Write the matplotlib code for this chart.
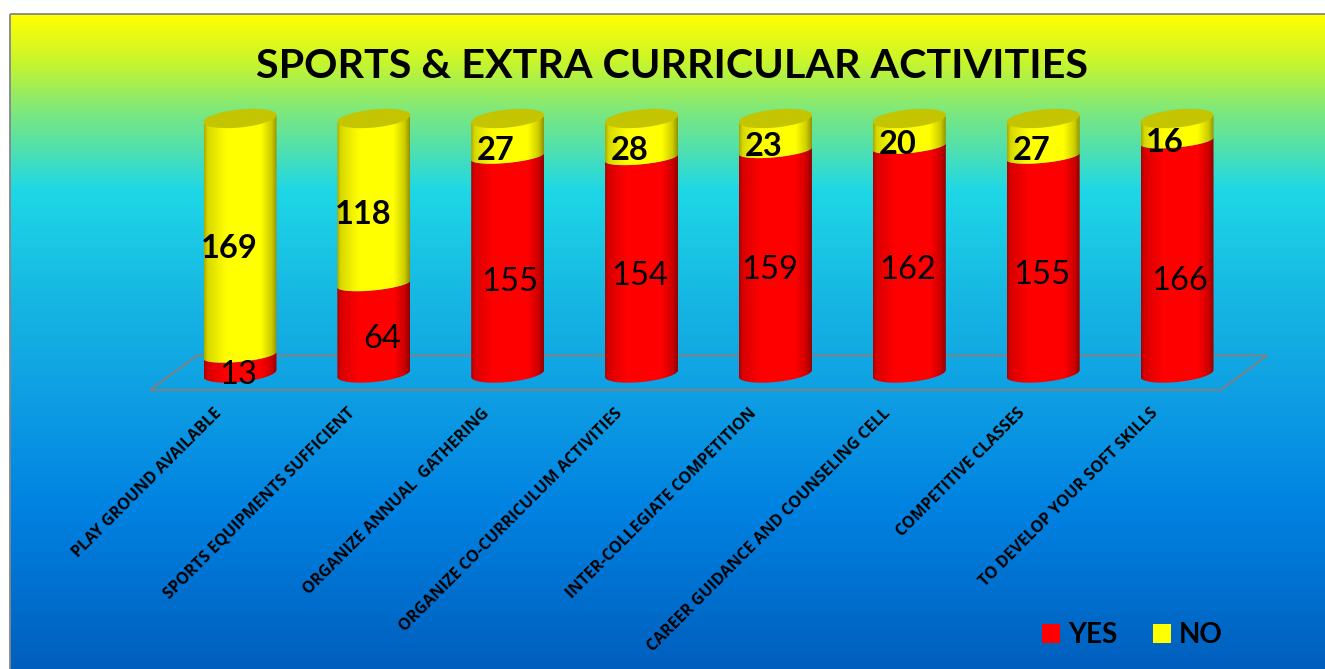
import numpy as np
import matplotlib
matplotlib.use("Agg")
import matplotlib.pyplot as plt
from matplotlib.colors import LinearSegmentedColormap
from matplotlib.patches import Polygon, Patch, Rectangle
from matplotlib.transforms import Affine2D, ScaledTranslation

# ---- data ----
categories = ["PLAY GROUND AVAILABLE", "SPORTS EQUIPMENTS SUFFICIENT", "ORGANIZE ANNUAL  GATHERING",
              "ORGANIZE CO-CURRICULUM ACTIVITIES", "INTER-COLLEGIATE COMPETITION",
              "CAREER GUIDANCE AND COUNSELING CELL", "COMPETITIVE CLASSES", "TO DEVELOP YOUR SOFT SKILLS"]
yes_values = [13, 64, 155, 154, 159, 162, 155, 166]
no_values = [169, 118, 27, 28, 23, 20, 27, 16]
title = "SPORTS & EXTRA CURRICULAR ACTIVITIES"

# ---- label positions (pixels, moved by hand in the original) ----
yes_label_px = [(238, 375), (382, 339), (510, 282), (640, 276), (770, 270), (908, 270), (1042, 275), (1180, 281)]
no_label_px = [(229, 249), (363, 214), (496, 150), (630, 151), (764, 147), (898, 144), (1032, 150), (1165, 143)]

W, H = 1325, 669
fig = plt.figure(figsize=(W / 100, H / 100), dpi=100, facecolor="white")
pix = Affine2D().scale(1, -1).translate(0, H)

def fig_rect(l, t, r, b):
    return [l / W, 1 - b / H, (r - l) / W, (b - t) / H]

# background gradient
bg = fig.add_axes(fig_rect(10, 14, W, H))
stops = [(14, "#ffff00"), (60, "#c8f52c"), (110, "#7de87d"), (190, "#1ed7e6"), (300, "#16b6e2"),
         (390, "#0fa0e4"), (510, "#0082e1"), (669, "#005fbe")]
cmap = LinearSegmentedColormap.from_list(
    "bg", [((y - 14) / (669 - 14), c) for y, c in stops])
bg.imshow(np.linspace(0, 1, 656)[:, None], aspect="auto", cmap=cmap, extent=(0, 1, 0, 1), origin="upper")
bg.set_axis_off()
fig.add_artist(Rectangle((9.5, 13.5), W + 5, H, transform=pix, fill=False, ec="#868686", lw=1.3))

# main axes
x_step, y0_px, ytop_px = 133.86, 373.5, 118.5
px_per_val = (y0_px - ytop_px) / 182
ax_l, ax_r = 240 - x_step / 2, 240 + 7.5 * x_step
ax_t, ax_b = 100, 390
ax = fig.add_axes(fig_rect(ax_l, ax_t, ax_r, ax_b))
ax.patch.set_alpha(0)
ax.set_xlim(-0.5, 7.5)
ax.set_ylim(-(ax_b - y0_px) / px_per_val, 182 + (ytop_px - ax_t) / px_per_val)
for s in ax.spines.values():
    s.set_visible(False)
ax.set_yticks([])
ax.set_xticks(range(len(categories)))
ax.set_xticklabels(categories, rotation=45, ha="right", va="center", rotation_mode="anchor",
                   family="Open Sans", fontweight="bold", fontsize=11.5, color="black")
ax.tick_params(axis="x", length=0, pad=15)
shift = ScaledTranslation(-21 / 100, 0, fig.dpi_scale_trans)
for lab in ax.get_xticklabels():
    lab.set_transform(lab.get_transform() + shift)

# floor
ax.add_patch(Polygon([(150, 390), (197, 355.5), (1267, 355.5), (1221, 390)], closed=True, transform=pix,
                     fill=False, ec="#808080", lw=1.4, zorder=1, clip_on=False))

half_w = 36.5 / x_step
tilt = 3.5 / px_per_val
h_bottom, h_mid, h_lid = 8.5 / px_per_val, 6.5 / px_per_val, 9.0 / px_per_val
t_front = np.linspace(np.pi, 2 * np.pi, 80)
shade_x = np.linspace(0, 1, 100)
shade = np.interp(shade_x, [0, 0.05, 0.3, 0.78, 0.93, 1], [0.68, 0.85, 1, 1, 0.8, 0.58])

def ellipse_xy(cx, v, t, h):
    # right end is higher than the left end
    return cx + half_w * np.cos(t), v + tilt * np.cos(t) + h * np.sin(t)

def segment(cx, v0, v1, h0, rgb):
    bx, by = ellipse_xy(cx, v0, t_front, h0)
    tx, ty = ellipse_xy(cx, v1, t_front, h_mid)
    verts = np.r_[np.c_[bx, by], np.c_[tx, ty][::-1]]
    poly = Polygon(verts, closed=True, transform=ax.transData, fc="none", ec="none")
    ax.add_patch(poly)
    img = shade[None, :, None] * np.array(rgb)[None, None, :]
    im = ax.imshow(img, aspect="auto", zorder=3, interpolation="bilinear",
                   extent=(cx - half_w, cx + half_w, v0 - 2 * h_lid, v1 + 2 * h_lid))
    im.set_clip_path(poly)

RED, YEL = (1, 0, 0), (1, 1, 0)
xlim, ylim = ax.get_xlim(), ax.get_ylim()
for i, (y, n) in enumerate(zip(yes_values, no_values)):
    segment(i, 0, y, h_bottom, RED)
    segment(i, y, y + n, h_mid, YEL)
    lx, ly = ellipse_xy(i, y + n, np.linspace(0, 2 * np.pi, 120), h_lid)
    ax.fill(lx, ly, color="#c4c400", lw=0, zorder=4)
ax.set_xlim(xlim)
ax.set_ylim(ylim)
ax.set_aspect("auto")

# value labels
for v, (px, py) in zip(yes_values, yes_label_px):
    ax.text(px, py, str(v), transform=pix, ha="center", va="center", family="Lato",
            fontsize=23.5, color="black", zorder=6, clip_on=False)
for v, (px, py) in zip(no_values, no_label_px):
    ax.text(px, py, str(v), transform=pix, ha="center", va="center", family="Lato", fontweight="bold",
            fontsize=23.5, color="black", zorder=6, clip_on=False)

fig.text(672, 66, title, transform=pix, ha="center", va="center", family="Lato", fontweight="bold",
         fontsize=29.7, color="black")

handles = [Patch(fc="#ff0000", ec="none", label="YES"), Patch(fc="#ffff00", ec="none", label="NO")]
leg = fig.legend(handles=handles, loc="center", bbox_to_anchor=(1132.5 / W, 1 - 635 / H), ncol=2, frameon=False,
                 prop={"family": "Lato", "weight": "bold", "size": 20}, handlelength=0.65, handleheight=0.65,
                 handletextpad=0.3, columnspacing=1.25, labelcolor="black", borderpad=0)

fig.savefig("out.png", dpi=100, facecolor="white")
